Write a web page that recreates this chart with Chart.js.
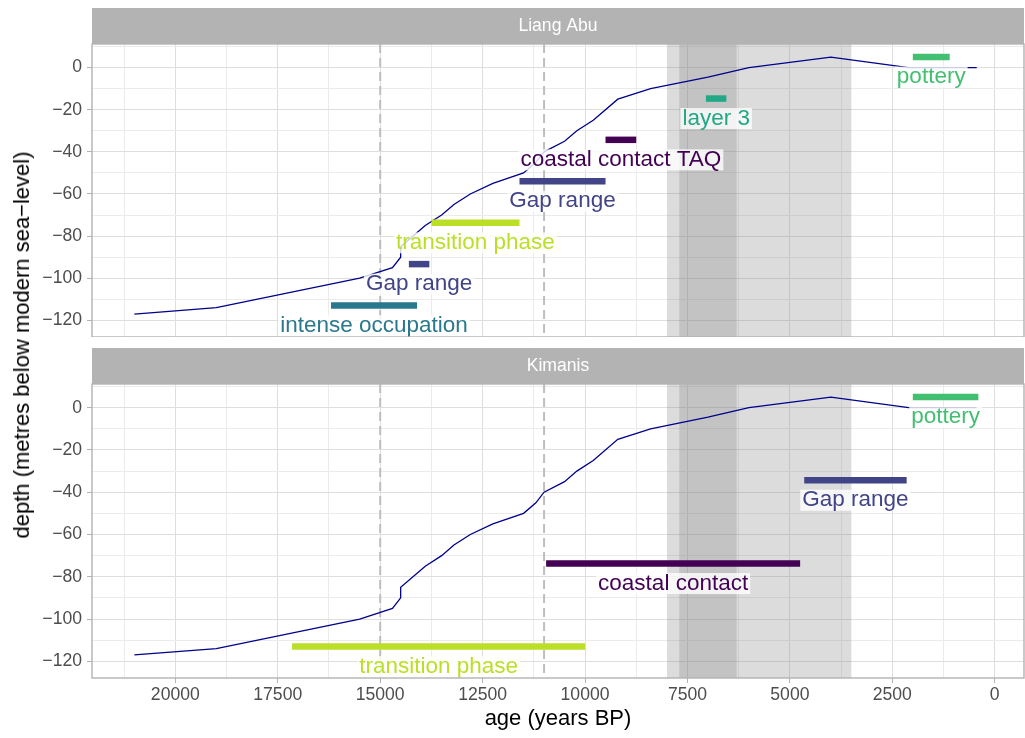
<!DOCTYPE html>
<html>
<head>
<meta charset="utf-8">
<script src="https://cdn.jsdelivr.net/npm/chart.js@4.4.1/dist/chart.umd.min.js"></script>
<style>
  body { margin: 0; background: #fff; }
  #wrap { position: relative; width: 1025px; height: 738px; overflow: hidden; font-family: 'Liberation Sans', Arial, sans-serif; }
  #c1 { position: absolute; left: 0; top: 0; }
  #c2 { position: absolute; left: 0; top: 348px; }
  #ytitle { position: absolute; left: 22px; top: 345px; transform: translate(-50%, -50%) rotate(-90deg);
            font-size: 22px; white-space: nowrap; color: #000; }
</style>
</head>
<body>
<div id="wrap">
  <canvas id="c1" width="1025" height="337"></canvas>
  <canvas id="c2" width="1025" height="390"></canvas>
  <div id="ytitle">depth (metres below modern sea−level)</div>
</div>
<script>
// Sea-level curve (age in years BP, depth in metres)
const seaAge   = [21000, 19000, 15500, 14700, 14500, 14500, 13900, 13500, 13200, 12800, 12250, 11500, 11200, 11000, 10500, 10200, 9800, 9200, 8400, 7000, 6000, 5000, 4000, 2100, 440];
const seaDepth = [-117, -114, -100, -95, -90, -85, -75, -70, -65, -60, -55, -50, -45, -40, -35, -30, -25, -15, -10, -4.5, 0, 2.5, 5, 0, 0];

// shaded periods and dashed reference ages
const shadeOuter = [8000, 3500];
const shadeInner = [7700, 6300];
const dashedAges = [15000, 11000];

// Liang Abu events
const laNames = ['intense occupation', 'Gap range', 'transition phase', 'Gap range', 'coastal contact TAQ', 'layer 3', 'pottery'];
const laStart = [16200, 14300, 13750, 11600, 9500, 7050, 2000];
const laEnd   = [14100, 13800, 11600, 9500, 8750, 6550, 1100];
const laDepth = [-113, -93.3, -73.7, -54, -34.3, -14.7, 5];

// Kimanis events
const kiNames = ['transition phase', 'coastal contact', 'Gap range', 'pottery'];
const kiStart = [17150, 10950, 4650, 2000];
const kiEnd   = [10000, 4750, 2150, 400];
const kiDepth = [-113, -73.7, -34.3, 5];

const eventColor = {
    'coastal contact TAQ': '#440154',
    'coastal contact': '#440154',
    'Gap range': '#414487',
    'intense occupation': '#2A788E',
    'layer 3': '#22A884',
    'pottery': '#43BF71',
    'transition phase': '#BBDF27'
};

const FONT = "'Liberation Sans', Arial, sans-serif";
Chart.defaults.font.family = FONT;

const panelDecor = {
    id: 'panelDecor',
    beforeDatasetsDraw(chart) {
        const { ctx, chartArea: a, scales: { x } } = chart;
        ctx.save();
        ctx.beginPath();
        ctx.rect(a.left, a.top, a.right - a.left, a.bottom - a.top);
        ctx.clip();
        ctx.fillStyle = 'rgba(128,128,128,0.28)';
        [shadeOuter, shadeInner].forEach(r => {
            const x0 = x.getPixelForValue(r[0]), x1 = x.getPixelForValue(r[1]);
            ctx.fillRect(Math.min(x0, x1), a.top, Math.abs(x1 - x0), a.bottom - a.top);
        });
        ctx.strokeStyle = '#BEBEBE';
        ctx.lineWidth = 2;
        ctx.setLineDash([9, 5]);
        dashedAges.forEach(v => {
            const px = x.getPixelForValue(v);
            ctx.beginPath();
            ctx.moveTo(px, a.top);
            ctx.lineTo(px, a.bottom);
            ctx.stroke();
        });
        ctx.restore();
    },
    afterDatasetsDraw(chart, args, opts) {
        const { ctx, chartArea: a, scales: { x, y } } = chart;
        ctx.save();
        ctx.beginPath();
        ctx.rect(a.left, a.top, a.right - a.left, a.bottom - a.top);
        ctx.clip();
        ctx.font = '22.5px ' + FONT;
        ctx.textAlign = 'center';
        ctx.textBaseline = 'alphabetic';
        opts.names.forEach((n, i) => {
            const cx = x.getPixelForValue((opts.starts[i] + opts.ends[i]) / 2);
            const cy = y.getPixelForValue(opts.depths[i] - 9.5);
            const w = ctx.measureText(n).width + 4;
            ctx.fillStyle = 'rgba(255,255,255,0.8)';
            ctx.fillRect(cx - w / 2, cy - 10.5, w, 21);
            ctx.fillStyle = eventColor[n];
            ctx.fillText(n, cx, cy + 6);
        });
        ctx.restore();
    },
    afterDraw(chart, args, opts) {
        const { ctx, chartArea: a } = chart;
        ctx.save();
        ctx.fillStyle = '#B3B3B3';
        ctx.fillRect(a.left, a.top - 36, a.right - a.left, 36);
        ctx.fillStyle = '#FFFFFF';
        ctx.font = '17.6px ' + FONT;
        ctx.textAlign = 'center';
        ctx.textBaseline = 'middle';
        ctx.fillText(opts.title, (a.left + a.right) / 2, a.top - 18);
        ctx.strokeStyle = '#B3B3B3';
        ctx.lineWidth = 1.4;
        ctx.strokeRect(a.left, a.top, a.right - a.left, a.bottom - a.top);
        ctx.restore();
    }
};

function minus(v) {
    return v < 0 ? '\u2212' + Math.abs(v) : String(v);
}

// regular ticks on multiples of the step (Chart.js may otherwise stretch the spacing)
function stepTicks(step) {
    return s => {
        const t = [];
        for (let v = Math.ceil(s.min / step) * step; v <= s.max; v += step) t.push({ value: v });
        s.ticks = t;
    };
}

function makePanel(id, title, names, starts, ends, depths, bottom, padTop) {
    const datasets = [{
        data: seaAge.map((a, i) => ({ x: a, y: seaDepth[i] })),
        borderColor: '#00008B',
        borderWidth: 1.3,
        pointRadius: 0,
        order: 2
    }];
    names.forEach((n, i) => {
        datasets.push({
            data: [{ x: starts[i], y: depths[i] }, { x: ends[i], y: depths[i] }],
            borderColor: eventColor[n],
            borderWidth: 6.5,
            borderCapStyle: 'butt',
            pointRadius: 0,
            order: 1
        });
    });

    return new Chart(document.getElementById(id), {
        type: 'line',
        data: { datasets: datasets },
        options: {
            responsive: false,
            animation: false,
            devicePixelRatio: 1,
            layout: { padding: { top: padTop, right: 1, left: 0, bottom: 0 } },
            plugins: {
                legend: { display: false },
                tooltip: { enabled: false },
                panelDecor: { title: title, names: names, starts: starts, ends: ends, depths: depths }
            },
            scales: {
                x: {
                    type: 'linear',
                    reverse: true,
                    min: -714,
                    max: 22034,
                    border: { display: false },
                    grid: {
                        color: c => (c.tick && c.tick.value % 2500 === 0) ? '#DEDEDE' : '#EBEBEB',
                        lineWidth: 1,
                        drawTicks: bottom,
                        tickLength: 5,
                        tickColor: c => (c.tick && c.tick.value % 2500 === 0) ? '#B3B3B3' : 'rgba(0,0,0,0)'
                    },
                    ticks: {
                        display: bottom,
                        autoSkip: false,
                        maxRotation: 0,
                        padding: 2,
                        color: '#4D4D4D',
                        font: { size: 17.6 },
                        callback: v => v % 2500 === 0 ? String(v) : ''
                    },
                    afterBuildTicks: stepTicks(1250),
                    title: {
                        display: bottom,
                        text: 'age (years BP)',
                        color: '#000',
                        font: { size: 22 },
                        padding: { top: 0, bottom: 6 }
                    },
                    afterFit: s => { s.height = bottom ? 60 : 0; s.paddingLeft = 0; s.paddingRight = 0; }
                },
                y: {
                    type: 'linear',
                    min: -127.9,
                    max: 11.2,
                    border: { display: false },
                    grid: {
                        color: c => (c.tick && c.tick.value % 20 === 0) ? '#DEDEDE' : '#EBEBEB',
                        lineWidth: 1,
                        tickLength: 5,
                        tickColor: c => (c.tick && c.tick.value % 20 === 0) ? '#B3B3B3' : 'rgba(0,0,0,0)'
                    },
                    ticks: {
                        autoSkip: false,
                        padding: 5,
                        color: '#4D4D4D',
                        font: { size: 17.6 },
                        callback: v => v % 20 === 0 ? minus(v) : ''
                    },
                    afterBuildTicks: stepTicks(10),
                    afterFit: s => { s.width = 92; s.paddingTop = 0; s.paddingBottom = 0; }
                }
            }
        },
        plugins: [panelDecor]
    });
}

makePanel('c1', 'Liang Abu', laNames, laStart, laEnd, laDepth, false, 44);
makePanel('c2', 'Kimanis', kiNames, kiStart, kiEnd, kiDepth, true, 36);
</script>
</body>
</html>
